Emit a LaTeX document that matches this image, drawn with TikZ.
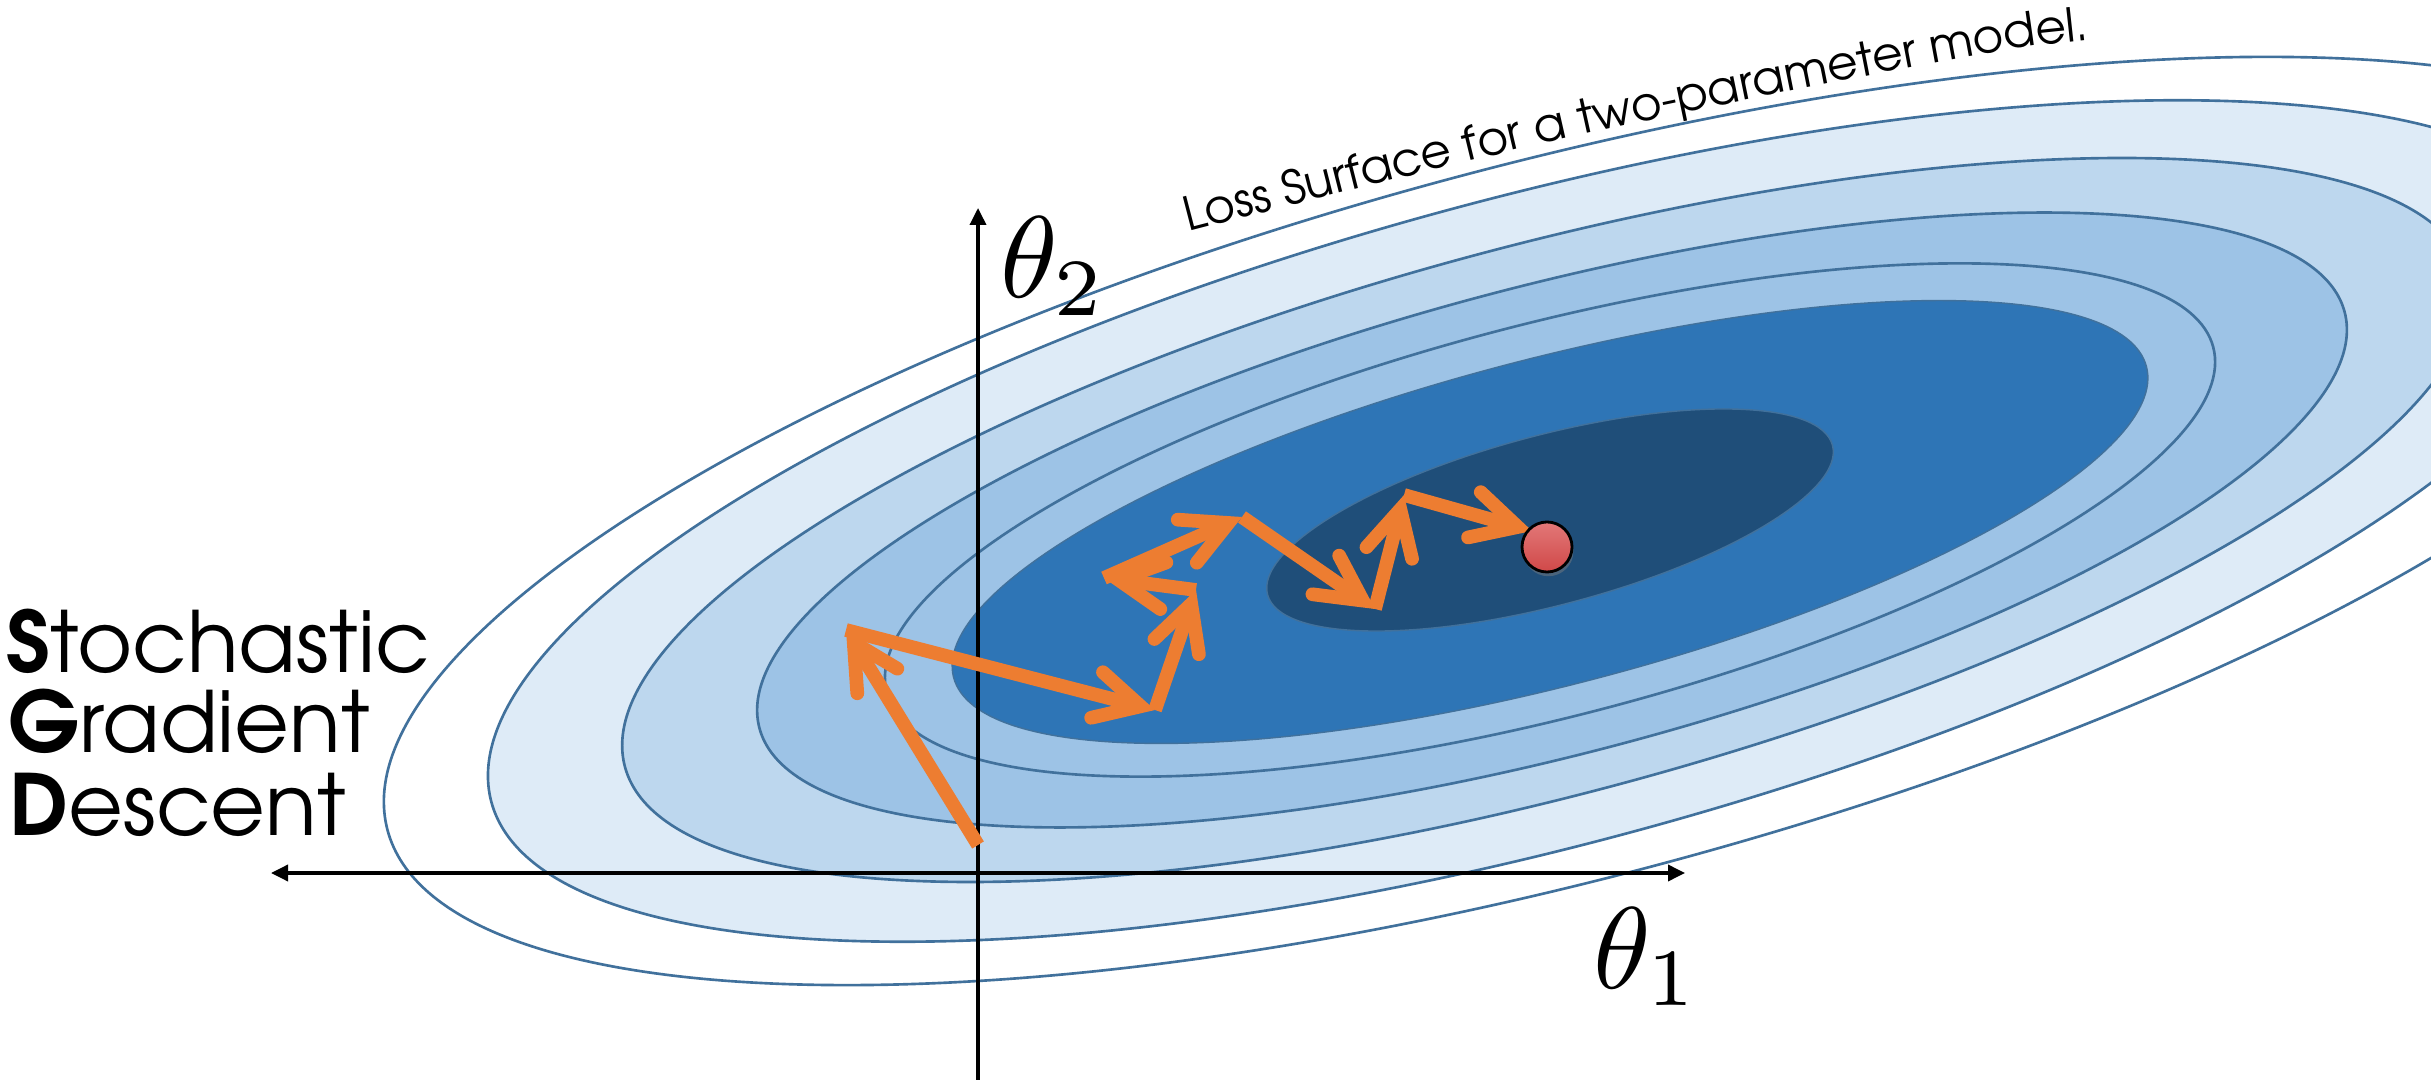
\documentclass[tikz,border=0pt]{standalone}
\usepackage{fontspec}
\newfontfamily\gothic{TeX Gyre Adventor}
\usetikzlibrary{arrows.meta,decorations.text,shadows}
\definecolor{ringline}{HTML}{41719C}
\definecolor{ringA}{HTML}{DEEBF7}
\definecolor{ringB}{HTML}{BDD7EE}
\definecolor{ringC}{HTML}{9DC3E6}
\definecolor{ringD}{HTML}{2E75B6}
\definecolor{ringE}{HTML}{1F4E79}
\definecolor{sgdorange}{HTML}{ED7D31}
\definecolor{dotTop}{HTML}{E27878}
\definecolor{dotBot}{HTML}{D04848}
\begin{document}
\begin{tikzpicture}[x=0.01cm,y=-0.01cm,
  ring/.style={draw=ringline,line width=0.75pt},
  core/.style={draw=ringline,line width=0.4pt},
  axisline/.style={draw=black,line width=1pt},
  sgdarrow/.style={draw=sgdorange,line width=3.9pt,
    -{Straight Barb[length=4.5mm,width=4.7mm,line cap=round,line join=miter]}},
  sgdtext/.style={font=\gothic\fontsize{24}{29}\selectfont,anchor=base west,inner sep=0pt},
  thetalabel/.style={anchor=base west,inner sep=0pt,scale=3.3}]
\useasboundingbox (0,0) rectangle (2431,1080);
\fill[white] (0,0) rectangle (2431,1080);
\begin{scope}
  \clip (0,0) rectangle (2431,1080);
  \path[ring,fill=white,rotate around={14.8:(1557,521)}] (1557,521) ellipse [x radius=12.09cm,y radius=3.58cm];
  \path[ring,fill=ringA,rotate around={15.0:(1540,521)}] (1540,521) ellipse [x radius=10.85cm,y radius=3.24cm];
  \path[ring,fill=ringB,rotate around={15.0:(1546,520)}] (1546,520) ellipse [x radius=9.53cm,y radius=2.74cm];
  \path[ring,fill=ringC,rotate around={14.7:(1552,520)}] (1552,520) ellipse [x radius=8.19cm,y radius=2.34cm];
  \path[ring,fill=ringC,rotate around={14.6:(1550,520)}] (1550,520) ellipse [x radius=6.85cm,y radius=1.96cm];
  \path[core,fill=ringD,rotate around={14.6:(1550,522)}] (1550,522) ellipse [x radius=6.16cm,y radius=1.63cm];
  \path[core,fill=ringE,rotate around={14.8:(1550,520)}] (1550,520) ellipse [x radius=2.92cm,y radius=0.85cm];
\end{scope}
% text along the outer contour
\path[decorate,decoration={text along path,text={|\gothic\fontsize{13.3}{16}\selectfont|Loss Surface for a two-parameter model.}}]
  plot[smooth,tension=0.6] coordinates {(1188,232) (1558,140) (1949,60) (2104,38) (2420,4)};
% axes
\coordinate (xl) at (271,873);
\coordinate (xr) at (1685,873);
\coordinate (yb) at (978,1080);
\coordinate (yt) at (978,208);
\draw[axisline,{Triangle[length=1.7mm,width=1.6mm]}-{Triangle[length=1.7mm,width=1.6mm]}] (xl) -- (xr);
\draw[axisline,-{Triangle[length=1.7mm,width=1.6mm]}] (yb) -- (yt);
% SGD path
\coordinate (p0) at (978,845);
\coordinate (p1) at (846,630);
\coordinate (p2) at (1155,710);
\coordinate (p3) at (1196,590);
\coordinate (p4) at (1104,578);
\coordinate (p5) at (1242,517);
\coordinate (p6) at (1375,609);
\coordinate (p7) at (1404,495);
\coordinate (p8) at (1532,531);
\draw[sgdarrow] (p0) -- (p1);
\draw[sgdarrow] (p1) -- (p2);
\draw[sgdarrow] (p2) -- (p3);
\draw[sgdarrow] (p3) -- (p4);
\draw[sgdarrow] (p4) -- (p5);
\draw[sgdarrow] (p5) -- (p6);
\draw[sgdarrow] (p6) -- (p7);
\draw[sgdarrow] (p7) -- (p8);
% minimum
\node[circle,draw=black,line width=0.8pt,minimum size=0.5cm,inner sep=0pt,
  top color=dotTop,bottom color=dotBot,
  drop shadow={shadow xshift=0.4pt,shadow yshift=-1.2pt,opacity=0.45}] (minimum) at (1547,547) {};
% labels
\node[thetalabel] (t2) at (998,298) {$\theta_2$};
\node[thetalabel] (t1) at (1591,988) {$\theta_1$};
\node[sgdtext] (sgd1) at (6,673) {\textbf{S}tochastic};
\node[sgdtext] (sgd2) at (8,753) {\textbf{G}radient};
\node[sgdtext] (sgd3) at (9,835) {\textbf{D}escent};
\end{tikzpicture}
\end{document}
